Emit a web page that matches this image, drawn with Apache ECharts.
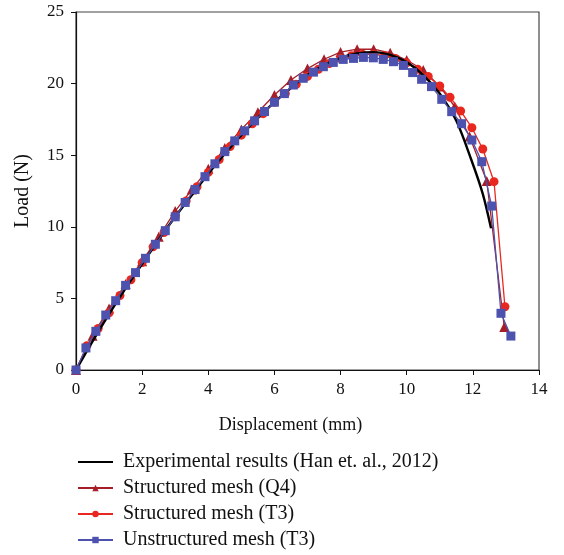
<!DOCTYPE html>
<html>
<head>
<meta charset="utf-8">
<script src="https://cdn.jsdelivr.net/npm/echarts@6/dist/echarts.min.js"></script>
<style>html,body{margin:0;padding:0;background:#fff;}#c{width:564px;height:555px;}</style>
</head>
<body>
<div id="c"></div>
<script>
var seriesNames = ['Experimental results (Han et. al., 2012)', 'Structured mesh (Q4)', 'Structured mesh (T3)', 'Unstructured mesh (T3)'];
var xTicks = [0, 2, 4, 6, 8, 10, 12, 14];
var yTicks = [0, 5, 10, 15, 20, 25];

var experimental = [[0,0],[0.5,2.0],[1,3.9],[1.5,5.7],[2,7.4],[2.5,9.1],[3,10.7],[3.5,12.2],[4,13.7],[4.5,15.1],[5,16.4],[5.5,17.6],[6,18.7],[6.5,19.7],[7,20.6],[7.5,21.3],[8,21.8],[8.5,22.1],[9,22.2],[9.5,22.0],[10,21.5],[10.5,20.6],[11,19.3],[11.5,17.4],[11.95,14.7],[12.3,12.3],[12.55,9.9]];

var q4 = [[0,0],[0.5,2.4],[1,4.3],[1.5,6.0],[2,7.6],[2.5,9.3],[3,11.1],[3.5,12.6],[4,14.05],[4.5,15.5],[5,16.8],[5.5,18.0],[6,19.2],[6.5,20.25],[7,21.05],[7.5,21.7],[8,22.2],[8.5,22.4],[9,22.4],[9.5,22.15],[10,21.65],[10.5,20.95],[11,19.8],[11.45,18.4],[11.9,16.3],[12.42,13.2],[12.95,3.0]];

var t3 = [[0,0],[0.33,1.7],[0.67,2.9],[1.0,4.0],[1.33,5.2],[1.66,6.3],[2.0,7.5],[2.33,8.6],[2.66,9.6],[3.0,10.7],[3.33,11.8],[3.66,12.8],[4.0,13.8],[4.33,14.7],[4.66,15.6],[5.0,16.4],[5.33,17.2],[5.66,17.9],[6.0,18.7],[6.33,19.3],[6.66,19.95],[7.0,20.5],[7.33,21.0],[7.66,21.4],[8.0,21.75],[8.33,21.95],[8.66,22.05],[9.0,22.05],[9.33,21.95],[9.66,21.75],[10.0,21.45],[10.33,21.0],[10.65,20.5],[11.0,19.83],[11.31,19.04],[11.63,18.09],[11.97,16.92],[12.3,15.43],[12.64,13.15],[12.97,4.42]];

var unstructured = [[0,0],[0.3,1.54],[0.6,2.7],[0.9,3.84],[1.2,4.84],[1.5,5.91],[1.8,6.8],[2.1,7.8],[2.4,8.78],[2.7,9.73],[3.0,10.7],[3.3,11.7],[3.6,12.6],[3.9,13.5],[4.2,14.4],[4.5,15.25],[4.8,16.0],[5.1,16.7],[5.4,17.4],[5.7,18.05],[6.0,18.7],[6.3,19.3],[6.57,19.9],[6.87,20.37],[7.18,20.8],[7.48,21.18],[7.78,21.48],[8.08,21.69],[8.39,21.76],[8.69,21.83],[8.99,21.8],[9.29,21.69],[9.6,21.53],[9.9,21.27],[10.18,20.77],[10.45,20.3],[10.75,19.79],[11.06,18.9],[11.36,18.04],[11.66,17.2],[11.97,16.06],[12.27,14.55],[12.57,11.45],[12.85,3.96],[13.15,2.37]];

var font = 'Liberation Serif';
var chart = echarts.init(document.getElementById('c'), null, {renderer: 'canvas'});
chart.setOption({
  animation: false,
  backgroundColor: '#fff',
  grid: {left: 76, right: 25, top: 12, bottom: 185, show: true, borderColor: '#444', borderWidth: 1.2, backgroundColor: 'transparent'},
  xAxis: {
    type: 'value', min: xTicks[0], max: xTicks[xTicks.length-1], interval: 2,
    name: 'Displacement (mm)', nameLocation: 'middle', nameGap: 46,
    nameTextStyle: {fontFamily: font, fontSize: 18, color: '#111', padding: [0, 34, 0, 0]},
    axisLine: {show: true, onZero: false, lineStyle: {color: '#111', width: 1.2}},
    axisTick: {show: true, inside: false, length: 5, lineStyle: {color: '#111'}},
    axisLabel: {fontFamily: font, fontSize: 17, color: '#111', margin: 11},
    splitLine: {show: false}
  },
  yAxis: {
    type: 'value', min: yTicks[0], max: yTicks[yTicks.length-1], interval: 5,
    name: 'Load (N)', nameLocation: 'middle', nameGap: 43,
    nameTextStyle: {fontFamily: font, fontSize: 20, color: '#111'},
    axisLine: {show: true, onZero: false, lineStyle: {color: '#111', width: 1.2}},
    axisTick: {show: true, inside: false, length: 5, lineStyle: {color: '#111'}},
    axisLabel: {fontFamily: font, fontSize: 17, color: '#111', margin: 12},
    splitLine: {show: false}
  },
  legend: {
    orient: 'vertical', left: 77, top: 452, padding: 0, itemWidth: 35, itemHeight: 8, itemGap: 6,
    textStyle: {fontFamily: font, fontSize: 20, color: '#111', padding: [0, 0, 0, 5]},
    data: [
      {name: seriesNames[0], itemStyle: {opacity: 0}},
      seriesNames[1], seriesNames[2], seriesNames[3]
    ]
  },
  series: [
    {name: seriesNames[1], type: 'line', data: q4, z: 2, symbol: 'triangle', symbolSize: 10,
     lineStyle: {color: '#A51E28', width: 1.3}, itemStyle: {color: '#A51E28'}},
    {name: seriesNames[2], type: 'line', data: t3, z: 3, symbol: 'circle', symbolSize: 9,
     lineStyle: {color: '#E8281F', width: 1.3}, itemStyle: {color: '#E8281F'}},
    {name: seriesNames[0], type: 'line', data: experimental, z: 4, symbol: 'none', smooth: 0.3,
     lineStyle: {color: '#000', width: 2.4}, itemStyle: {color: '#000'}},
    {name: seriesNames[3], type: 'line', data: unstructured, z: 5, symbol: 'rect', symbolSize: 9,
     lineStyle: {color: '#4C52AE', width: 1.3}, itemStyle: {color: '#4C52AE'}}
  ]
});
</script>
</body>
</html>
